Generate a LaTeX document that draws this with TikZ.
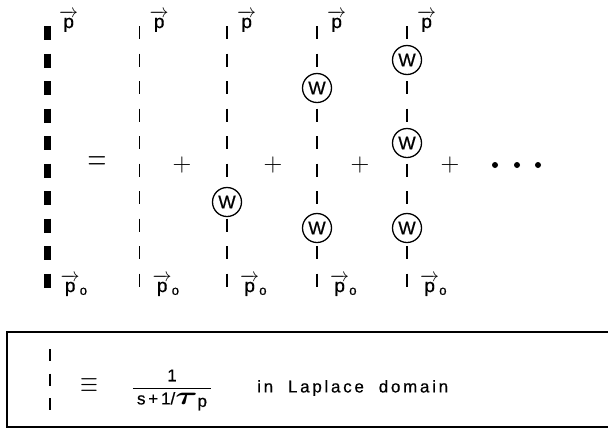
\documentclass[tikz,border=0pt]{standalone}
\usepackage{fix-cm}
\usepackage{amsmath,amssymb}
\usepackage{graphicx}
\usepackage{fontspec}
\setmainfont[FakeBold=0.6]{Liberation Sans}
\newfontfamily\spacedfont[LetterSpace=16,FakeBold=0.6]{Liberation Sans}
\usetikzlibrary{positioning}

\begin{document}
\begin{tikzpicture}[x=1pt, y=-1pt, font=\fontsize{15}{18}\selectfont,
  heavyline/.style={line width=7pt, dash pattern=on 14pt off 13.5pt},
  lightline/.style={line width=1.4pt, dash pattern=on 13pt off 14.5pt},
  vertex/.style={circle, draw, fill=white, line width=1.3pt, minimum size=29pt, inner sep=0pt, font=\fontsize{18.5}{18.5}\selectfont},
  toplab/.style={anchor=base west, inner sep=0pt, font=\fontsize{19}{19}\selectfont},
  botlab/.style={anchor=base west, inner sep=0pt, font=\fontsize{19}{19}\selectfont},
  opsign/.style={inner sep=0pt, font=\fontsize{26}{26}\selectfont},
  seqdot/.style={circle, fill, inner sep=0pt, minimum size=6pt},
  keybox/.style={line width=1.4pt}]
\useasboundingbox (0,0) rectangle (608,429);

\coordinate (top0) at (47.5,26);
\coordinate (bot0) at (47.5,287.5);
\draw[heavyline] (top0) -- (bot0);
\foreach \n/\x in {1/139.5,2/227,3/317,4/407}{
  \coordinate (top\n) at (\x,26);
  \coordinate (bot\n) at (\x,287.5);
  \draw[lightline] (top\n) -- (bot\n);
}
\foreach \n/\s in {0/11.5,1/10,2/10,3/10,4/10}{
  \node[toplab] (p\n) at ([xshift=\s pt,yshift=-2pt]top\n) {$\overrightarrow{\text{p}}$};
  \node[botlab] (po\n) at ([xshift=13pt,yshift=-4.5pt]bot\n) {$\overrightarrow{\text{p}}_{\text{o}}$};
}

\node[vertex] (w1) at (227,202) {W};
\node[vertex] (w2) at (317,88) {W};
\node[vertex] (w3) at (317,228) {W};
\node[vertex] (w4) at (407,60) {W};
\node[vertex] (w5) at (407,143) {W};
\node[vertex] (w6) at (407,228) {W};

\node[opsign] (eq) at (97,164) {\scalebox{1}[1.5]{$=$}};
\foreach \n/\x in {1/182,2/273,3/360,4/450}{\node[opsign] (plus\n) at (\x,165) {$+$};}
\foreach \n/\x in {1/495,2/517,3/538}{\node[seqdot] (dot\n) at (\x,165) {};}

\draw[keybox] (7,332) rectangle (620,427);
\coordinate (kt) at (50,349);
\coordinate (kb) at (50,412);
\draw[lightline, dash pattern=on 12pt off 12.5pt] (kt) -- (kb);
\node[opsign, font=\fontsize{23}{23}\selectfont] (equiv) at (89,386) {\scalebox{1}[1.3]{$\equiv$}};
\node[font=\fontsize{17}{20}\selectfont] (frac) at (172,390) {$\dfrac{\text{1}}{\kern4pt\text{s\,+\,1/}\scalebox{2}[1.5]{$\boldsymbol{\tau}$}\raisebox{-2.5pt}{\text{p}}\kern4pt}$};
\node[anchor=west, inner sep=0pt, font=\spacedfont\fontsize{17}{20}\selectfont] (laplace) at (257,388) {in\ \ Laplace\ \ domain};
\end{tikzpicture}
\end{document}
